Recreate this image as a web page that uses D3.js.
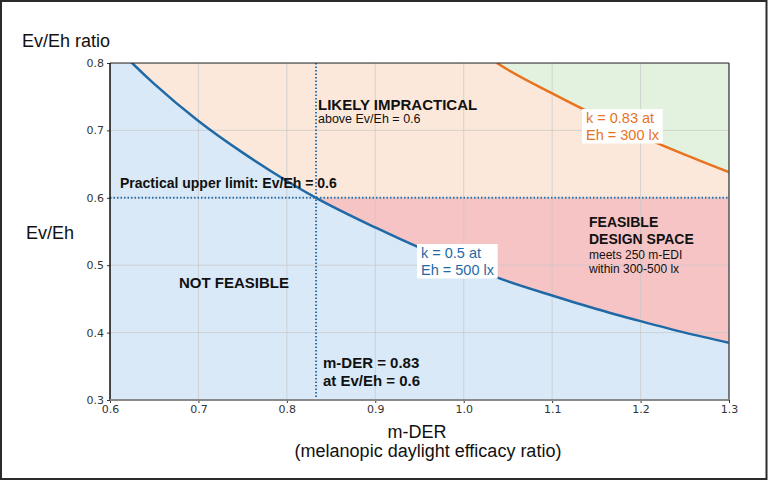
<!DOCTYPE html>
<html>
<head>
<meta charset="utf-8">
<script src="https://cdn.jsdelivr.net/npm/d3@7"></script>
<style>
  body { margin: 0; background: #fff; }
  svg { display: block; }
  .tick text { font-family: "DejaVu Sans", sans-serif; font-size: 11px; fill: #333; }
  .lbl { font-family: "Liberation Sans", Arial, sans-serif; }
</style>
</head>
<body>
<script>
// curve samples
const mDER = [0.60, 0.625, 0.65, 0.70, 0.75, 0.80, 0.833, 0.90, 0.95, 1.00, 1.05, 1.10, 1.15, 1.20, 1.25, 1.30];
const ratioK05 = [0.833, 0.80, 0.769, 0.714, 0.667, 0.625, 0.60, 0.556, 0.526, 0.50, 0.476, 0.455, 0.435, 0.417, 0.40, 0.385];
const mDERUpper = [1.0375, 1.05, 1.10, 1.15, 1.20, 1.25, 1.30];
const ratioK083 = [0.80, 0.790, 0.755, 0.722, 0.692, 0.664, 0.638];
const practicalLimit = 0.6;
const mDERAtLimit = 0.833;
const xTicks = [0.6, 0.7, 0.8, 0.9, 1.0, 1.1, 1.2, 1.3];
const yTicks = [0.3, 0.4, 0.5, 0.6, 0.7, 0.8];

const W = 768, H = 482;
const margin = {top: 63, right: 39, bottom: 82, left: 110};
const width = W - margin.left - margin.right, height = H - margin.top - margin.bottom;

const svg = d3.select("body").append("svg").attr("width", W).attr("height", H);

// outer frame
svg.append("rect").attr("x", 1).attr("y", 1).attr("width", W - 2.5).attr("height", H - 4)
    .attr("fill", "none").attr("stroke", "#2b2b2b").attr("stroke-width", 2);

const g = svg.append("g").attr("transform", "translate(" + margin.left + "," + margin.top + ")");

const x = d3.scaleLinear().domain([0.6, 1.3]).range([0, width]);
const y = d3.scaleLinear().domain([0.3, 0.8]).range([height, 0]);

g.append("clipPath").attr("id", "plot").append("rect").attr("width", width).attr("height", height);
const plot = g.append("g").attr("clip-path", "url(#plot)");

const lower = mDER.map((d, i) => ({x: d, y: ratioK05[i]}));
const upper = mDERUpper.map((d, i) => ({x: d, y: ratioK083[i]}));

// likely impractical background
plot.append("rect").attr("width", width).attr("height", height).attr("fill", "#fce8da");

// above k = 0.83
plot.append("path").datum(upper)
    .attr("d", d3.area().x(d => x(d.x)).y0(d => y(d.y)).y1(y(0.8)).curve(d3.curveMonotoneX))
    .attr("fill", "#e3f1df");

// feasible design space
plot.append("path").datum(lower.filter(d => d.x >= mDERAtLimit))
    .attr("d", d3.area().x(d => x(d.x)).y0(d => y(d.y)).y1(y(practicalLimit)).curve(d3.curveMonotoneX))
    .attr("fill", "#f6c4c4");

// not feasible
plot.append("path").datum(lower)
    .attr("d", d3.area().x(d => x(d.x)).y0(y(0.3)).y1(d => y(d.y)).curve(d3.curveMonotoneX))
    .attr("fill", "#d9e9f7");

// grid
plot.selectAll(".gx").data(xTicks).enter().append("line")
    .attr("x1", d => x(d)).attr("x2", d => x(d)).attr("y1", 0).attr("y2", height)
    .attr("stroke", "#c8c8c8").attr("stroke-opacity", 0.7);
plot.selectAll(".gy").data(yTicks).enter().append("line")
    .attr("y1", d => y(d)).attr("y2", d => y(d)).attr("x1", 0).attr("x2", width)
    .attr("stroke", "#c8c8c8").attr("stroke-opacity", 0.7);

// curves
const line = d3.line().x(d => x(d.x)).y(d => y(d.y)).curve(d3.curveMonotoneX);
plot.append("path").datum(lower).attr("d", line).attr("fill", "none")
    .attr("stroke", "#1f6aa6").attr("stroke-width", 2.5);
plot.append("path").datum(upper).attr("d", line).attr("fill", "none")
    .attr("stroke", "#e8731f").attr("stroke-width", 2.5);

// dotted reference lines
plot.append("line").attr("x1", 0).attr("x2", width).attr("y1", y(practicalLimit)).attr("y2", y(practicalLimit))
    .attr("stroke", "#2c74b0").attr("stroke-width", 2).attr("stroke-dasharray", "1.5,2");
plot.append("line").attr("x1", x(mDERAtLimit)).attr("x2", x(mDERAtLimit)).attr("y1", 0).attr("y2", height)
    .attr("stroke", "#2c74b0").attr("stroke-width", 2).attr("stroke-dasharray", "1.5,2");

// axes
const fmt = d3.format(".1f");
const ya = g.append("g").call(d3.axisLeft(y).tickValues(yTicks).tickFormat(fmt).tickSize(3).tickPadding(3));
const xa = g.append("g").attr("transform", "translate(0," + height + ")")
    .call(d3.axisBottom(x).tickValues(xTicks).tickFormat(fmt).tickSize(3).tickPadding(2));
ya.select(".domain").remove();
xa.select(".domain").remove();
ya.selectAll(".tick line").attr("stroke", "#333");
xa.selectAll(".tick line").attr("stroke", "#333");

// spines
g.append("line").attr("x1", 0).attr("x2", width).attr("y1", 0).attr("y2", 0).attr("stroke", "#222");
g.append("line").attr("x1", 0).attr("x2", 0).attr("y1", 0).attr("y2", height).attr("stroke", "#111").attr("stroke-width", 1.5);
g.append("line").attr("x1", width).attr("x2", width).attr("y1", 0).attr("y2", height).attr("stroke", "#555").attr("stroke-width", 1.5);
g.append("line").attr("x1", 0).attr("x2", width).attr("y1", height).attr("y2", height).attr("stroke", "#8a8a8a").attr("stroke-width", 2);

// text helper
function txt(px, py, s, size, weight, color, anchor) {
  return svg.append("text").attr("class", "lbl").attr("x", px).attr("y", py).text(s)
      .attr("font-size", size).attr("font-weight", weight || "normal")
      .attr("fill", color || "#111").attr("text-anchor", anchor || "start");
}

txt(22, 47, "Ev/Eh ratio", 18);
txt(26, 239, "Ev/Eh", 18);
txt(417, 438, "m-DER", 18, "normal", "#111", "middle");
txt(428, 457, "(melanopic daylight efficacy ratio)", 18, "normal", "#111", "middle");

txt(318, 110, "LIKELY IMPRACTICAL", 15, "bold");
txt(318, 123, "above Ev/Eh = 0.6", 12.5);
txt(120, 188, "Practical upper limit: Ev/Eh = 0.6", 14, "bold");
txt(179, 288, "NOT FEASIBLE", 15, "bold");
txt(323, 368, "m-DER = 0.83", 15, "bold");
txt(323, 386, "at Ev/Eh = 0.6", 15, "bold");
txt(589, 227, "FEASIBLE", 14, "bold");
txt(589, 244, "DESIGN SPACE", 14, "bold");
txt(589, 259, "meets 250 m-EDI", 12);
txt(589, 273, "within 300-500 lx", 12);

// boxed curve labels
function boxed(px, py, lines, color) {
  const grp = svg.append("g");
  const bg = grp.append("rect").attr("fill", "#fff");
  const ts = lines.map((s, i) => {
    return grp.append("text").attr("class", "lbl").attr("x", px).attr("y", py + i * 16.5).text(s)
        .attr("font-size", 14.5).attr("fill", color);
  });
  const b = grp.node().getBBox();
  bg.attr("x", b.x - 4).attr("y", b.y - 1).attr("width", b.width + 7).attr("height", b.height + 2);
}
boxed(421, 258, ["k = 0.5 at", "Eh = 500 lx"], "#1f6aa6");
boxed(586, 123, ["k = 0.83 at", "Eh = 300 lx"], "#e8731f");
</script>
</body>
</html>
